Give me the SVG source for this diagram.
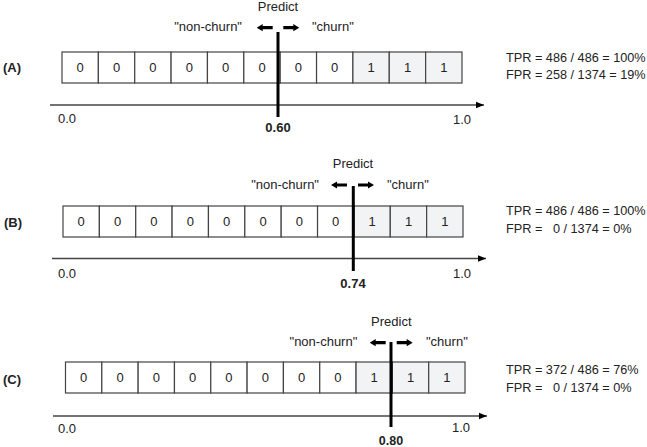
<svg xmlns="http://www.w3.org/2000/svg" xmlns:xlink="http://www.w3.org/1999/xlink" width="647" height="447" viewBox="0 0 647 447">
<style>
text{font-family:"Liberation Sans",Arial,sans-serif;fill:#222;}
.lbl{font-size:13px;}
.num{font-size:13px;text-anchor:middle;}
.bold{font-weight:bold;}
.rate{font-size:12.7px;white-space:pre;}
.c0{fill:#fff;stroke:#444;stroke-width:1.2;}
.c1{fill:#f2f3f5;stroke:#444;stroke-width:1.2;}
.axis{stroke:#444;stroke-width:1.5;fill:none;}
.thr{stroke:#000;stroke-width:3;}
.sa{fill:#000;}
</style>
<defs>
<marker id="ah" markerUnits="userSpaceOnUse" markerWidth="10" markerHeight="8" refX="8" refY="4" orient="auto" viewBox="0 0 10 8">
<path d="M0,0.8 L8,4 L0,7.2 Z" fill="#000"/>
</marker>
<path id="arrR" d="M0,-1.6 H10 V-3.6 L16,0 L10,3.6 V1.6 H0 Z"/>
</defs>

<g id="panelA">
<text class="lbl bold" x="3" y="72">(A)</text>
<g id="cellsA">
<rect class="c0" x="62" y="52" width="36.36" height="31"/>
<rect class="c0" x="98.36" y="52" width="36.36" height="31"/>
<rect class="c0" x="134.73" y="52" width="36.36" height="31"/>
<rect class="c0" x="171.09" y="52" width="36.36" height="31"/>
<rect class="c0" x="207.45" y="52" width="36.36" height="31"/>
<rect class="c0" x="243.82" y="52" width="36.36" height="31"/>
<rect class="c0" x="280.18" y="52" width="36.36" height="31"/>
<rect class="c0" x="316.55" y="52" width="36.36" height="31"/>
<rect class="c1" x="352.91" y="52" width="36.36" height="31"/>
<rect class="c1" x="389.27" y="52" width="36.36" height="31"/>
<rect class="c1" x="425.64" y="52" width="36.36" height="31"/>
<text class="num" x="80.2" y="72">0</text>
<text class="num" x="116.5" y="72">0</text>
<text class="num" x="152.9" y="72">0</text>
<text class="num" x="189.3" y="72">0</text>
<text class="num" x="225.6" y="72">0</text>
<text class="num" x="262" y="72">0</text>
<text class="num" x="298.4" y="72">0</text>
<text class="num" x="334.7" y="72">0</text>
<text class="num" x="371.1" y="72">1</text>
<text class="num" x="407.5" y="72">1</text>
<text class="num" x="443.8" y="72">1</text>
</g>
<text class="num" x="278" y="11">Predict</text>
<text class="lbl" x="242" y="31" text-anchor="end">"non-churn"</text>
<text class="lbl" x="312" y="31">"churn"</text>
<text class="lbl" x="58" y="123">0.0</text>
<text class="lbl" x="453" y="124">1.0</text>
<text class="num bold" x="278" y="132">0.60</text>
<text class="rate" x="506" y="62">TPR = 486 / 486 = 100%</text>
<text class="rate" x="506" y="79">FPR = 258 / 1374 = 19%</text>
</g>

<g id="panelB">
<text class="lbl bold" x="4" y="227">(B)</text>
<g id="cellsB">
<rect class="c0" x="63" y="206" width="36.36" height="31"/>
<rect class="c0" x="99.36" y="206" width="36.36" height="31"/>
<rect class="c0" x="135.73" y="206" width="36.36" height="31"/>
<rect class="c0" x="172.09" y="206" width="36.36" height="31"/>
<rect class="c0" x="208.45" y="206" width="36.36" height="31"/>
<rect class="c0" x="244.82" y="206" width="36.36" height="31"/>
<rect class="c0" x="281.18" y="206" width="36.36" height="31"/>
<rect class="c0" x="317.55" y="206" width="36.36" height="31"/>
<rect class="c1" x="353.91" y="206" width="36.36" height="31"/>
<rect class="c1" x="390.27" y="206" width="36.36" height="31"/>
<rect class="c1" x="426.64" y="206" width="36.36" height="31"/>
<text class="num" x="81.2" y="226">0</text>
<text class="num" x="117.5" y="226">0</text>
<text class="num" x="153.9" y="226">0</text>
<text class="num" x="190.3" y="226">0</text>
<text class="num" x="226.6" y="226">0</text>
<text class="num" x="263" y="226">0</text>
<text class="num" x="299.4" y="226">0</text>
<text class="num" x="335.7" y="226">0</text>
<text class="num" x="372.1" y="226">1</text>
<text class="num" x="408.5" y="226">1</text>
<text class="num" x="444.8" y="226">1</text>
</g>
<text class="num" x="353" y="168">Predict</text>
<text class="lbl" x="319" y="189" text-anchor="end">"non-churn"</text>
<text class="lbl" x="387" y="189">"churn"</text>
<text class="lbl" x="58" y="278">0.0</text>
<text class="lbl" x="453" y="278">1.0</text>
<text class="num bold" x="353" y="288">0.74</text>
<text class="rate" x="506" y="215">TPR = 486 / 486 = 100%</text>
<text class="rate" x="506" y="233">FPR =   0 / 1374 = 0%</text>
</g>

<g id="panelC">
<text class="lbl bold" x="3" y="384">(C)</text>
<g id="cellsC">
<rect class="c0" x="65.5" y="362" width="36.32" height="31"/>
<rect class="c0" x="101.82" y="362" width="36.32" height="31"/>
<rect class="c0" x="138.14" y="362" width="36.32" height="31"/>
<rect class="c0" x="174.46" y="362" width="36.32" height="31"/>
<rect class="c0" x="210.78" y="362" width="36.32" height="31"/>
<rect class="c0" x="247.1" y="362" width="36.32" height="31"/>
<rect class="c0" x="283.42" y="362" width="36.32" height="31"/>
<rect class="c0" x="319.74" y="362" width="36.32" height="31"/>
<rect class="c1" x="356.06" y="362" width="36.32" height="31"/>
<rect class="c1" x="392.38" y="362" width="36.32" height="31"/>
<rect class="c1" x="428.7" y="362" width="36.32" height="31"/>
<text class="num" x="83.7" y="382">0</text>
<text class="num" x="120" y="382">0</text>
<text class="num" x="156.3" y="382">0</text>
<text class="num" x="192.6" y="382">0</text>
<text class="num" x="228.9" y="382">0</text>
<text class="num" x="265.3" y="382">0</text>
<text class="num" x="301.6" y="382">0</text>
<text class="num" x="337.9" y="382">0</text>
<text class="num" x="374.2" y="382">1</text>
<text class="num" x="410.5" y="382">1</text>
<text class="num" x="446.9" y="382">1</text>
</g>
<text class="num" x="391.3" y="326">Predict</text>
<text class="lbl" x="357.3" y="346" text-anchor="end">"non-churn"</text>
<text class="lbl" x="426" y="346">"churn"</text>
<text class="lbl" x="58" y="433">0.0</text>
<text class="lbl" x="452" y="432">1.0</text>
<text class="num bold" x="391" y="445" style="font-size:12.5px">0.80</text>
<text class="rate" x="506" y="374">TPR = 372 / 486 = 76%</text>
<text class="rate" x="506" y="392">FPR =   0 / 1374 = 0%</text>
</g>

<g id="connectors">
<line class="axis" x1="50" y1="105" x2="484" y2="105" marker-end="url(#ah)"/>
<line class="axis" x1="52" y1="258.5" x2="486" y2="258.5" marker-end="url(#ah)"/>
<line class="axis" x1="53" y1="416" x2="487" y2="416" marker-end="url(#ah)"/>
<line class="thr" x1="278" y1="32" x2="278" y2="117"/>
<line class="thr" x1="353.3" y1="186" x2="353.3" y2="271"/>
<line class="thr" x1="391" y1="342" x2="391" y2="427"/>
<use class="sa" xlink:href="#arrR" transform="translate(283.3,27.7)"/>
<use class="sa" xlink:href="#arrR" transform="translate(272.7,27.7) scale(-1,1)"/>
<use class="sa" xlink:href="#arrR" transform="translate(358,185)"/>
<use class="sa" xlink:href="#arrR" transform="translate(347,185) scale(-1,1)"/>
<use class="sa" xlink:href="#arrR" transform="translate(396.7,342.7)"/>
<use class="sa" xlink:href="#arrR" transform="translate(385.7,342.7) scale(-1,1)"/>
</g>
</svg>
